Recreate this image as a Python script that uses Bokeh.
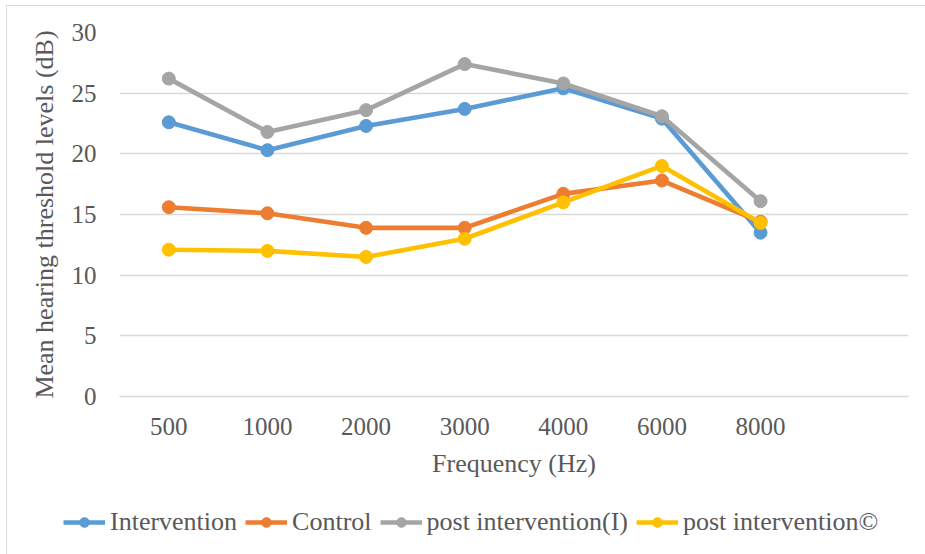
from bokeh.plotting import figure
from bokeh.layouts import column
from bokeh.models import FactorRange, Range1d, Legend, LegendItem, FixedTicker
from bokeh.embed import file_html
from bokeh.resources import INLINE

freqs = ["500", "1000", "2000", "3000", "4000", "6000", "8000"]
intervention = [22.6, 20.3, 22.3, 23.7, 25.4, 22.9, 13.5]
control = [15.6, 15.1, 13.9, 13.9, 16.7, 17.8, 14.4]
post_i = [26.2, 21.8, 23.6, 27.4, 25.8, 23.1, 16.1]
post_c = [12.1, 12.0, 11.5, 13.0, 16.0, 19.0, 14.3]
names = ["Intervention", "Control", "post intervention(I)", "post intervention©"]
colors = ["#5B9BD5", "#ED7D31", "#A5A5A5", "#FFC000"]
y_ticks = [0, 5, 10, 15, 20, 25, 30]
series = [intervention, control, post_i, post_c]

FONT = "Liberation Serif"
TXT = "#595959"
FS = "25px"
FS_LABEL = "26px"

p = figure(width=918, height=484, output_backend="svg", toolbar_location=None,
           x_range=FactorRange(factors=freqs + [" "], range_padding=0),
           y_range=Range1d(0, 30),
           min_border_left=112, min_border_right=17, min_border_top=26, min_border_bottom=94)
p.outline_line_color = None
p.background_fill_color = "white"
p.border_fill_color = "white"

p.xgrid.grid_line_color = None
p.ygrid.grid_line_color = "#d9d9d9"
p.ygrid.grid_line_width = 1.5
p.yaxis.ticker = FixedTicker(ticks=y_ticks)

for ax in (p.xaxis[0], p.yaxis[0]):
    ax.major_tick_line_color = None
    ax.minor_tick_line_color = None
    ax.major_label_text_font = FONT
    ax.major_label_text_font_size = FS
    ax.major_label_text_color = TXT
    ax.axis_label_text_font = FONT
    ax.axis_label_text_font_size = FS_LABEL
    ax.axis_label_text_color = TXT
    ax.axis_label_text_font_style = "normal"

p.yaxis.axis_line_color = None
p.xaxis.axis_line_color = "#d9d9d9"
p.xaxis.axis_line_width = 1.5
p.yaxis.major_label_standoff = 17
p.xaxis.major_label_standoff = 10
p.yaxis.axis_label = "Mean hearing threshold levels (dB)"
p.xaxis.axis_label = "Frequency (Hz)"
p.yaxis.axis_label_standoff = 10
p.xaxis.axis_label_standoff = 6

for vals, col in zip(series, colors):
    p.line(freqs, vals, line_color=col, line_width=4.6)
    p.scatter(freqs, vals, marker="circle", size=13, fill_color=col, line_color=col)

# legend strip below the chart (its own renderers lie outside its visible range)
pl = figure(width=918, height=64, output_backend="svg", toolbar_location=None,
            x_range=FactorRange(factors=freqs), y_range=Range1d(-2, -1),
            x_axis_location=None, y_axis_location=None,
            min_border_left=0, min_border_right=0, min_border_top=0, min_border_bottom=0)
if "frame_align" in pl.properties():
    pl.frame_align = False
    p.frame_align = False
pl.grid.visible = False
pl.outline_line_color = None
pl.background_fill_color = "white"
pl.border_fill_color = "white"

items = []
for name, vals, col in zip(names, series, colors):
    r1 = pl.line(freqs, vals, line_color=col, line_width=4.6)
    r2 = pl.scatter(freqs, vals, marker="circle", size=13, fill_color=col, line_color=col)
    items.append(LegendItem(label=name, renderers=[r1, r2]))

legend = Legend(items=items, orientation="horizontal", location=(56, 17),
                label_text_font=FONT, label_text_font_size=FS_LABEL, label_text_color=TXT,
                glyph_width=42, glyph_height=24, label_standoff=5, spacing=8,
                padding=0, margin=0, border_line_color=None, background_fill_alpha=0)
pl.add_layout(legend, "center")

layout = column(p, pl, spacing=0)
layout.styles = {"margin-left": "6px", "margin-top": "5px",
                 "border-left": "1px solid #d9d9d9", "border-top": "1px solid #d9d9d9"}

open("out.html", "w").write(file_html(layout, INLINE))
